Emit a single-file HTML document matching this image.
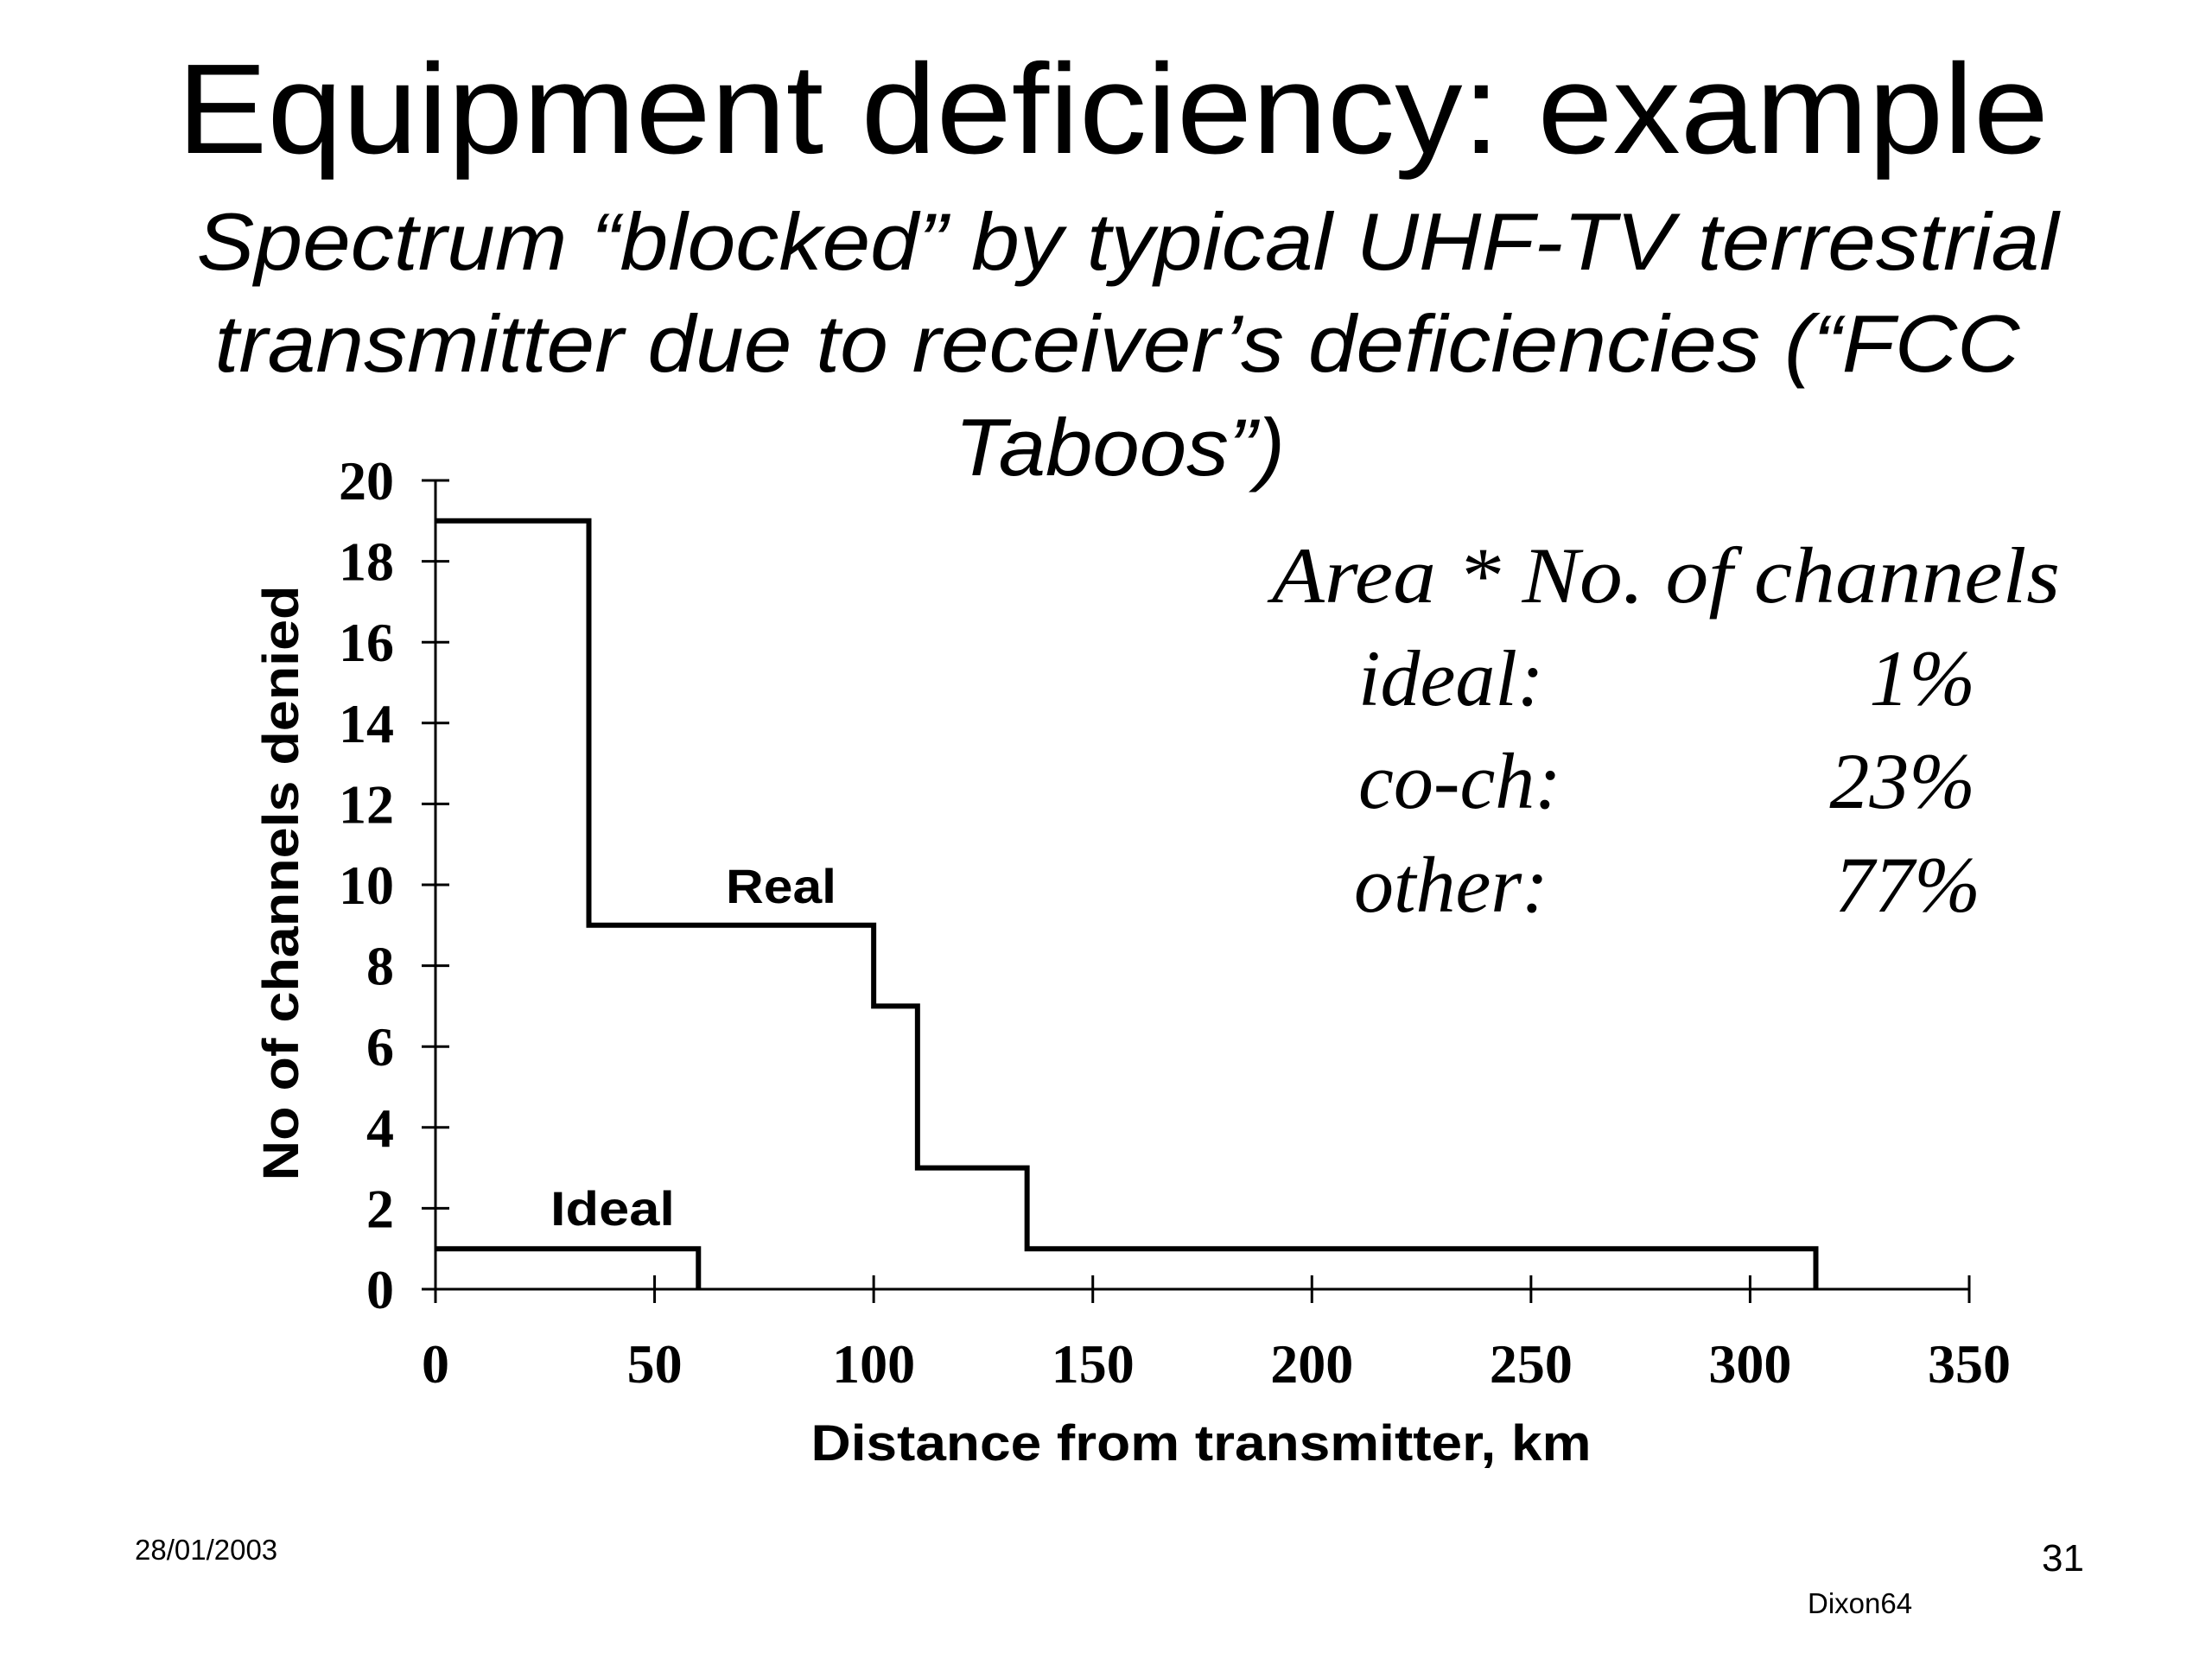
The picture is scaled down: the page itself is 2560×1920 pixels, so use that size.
<!DOCTYPE html>
<html><head><meta charset="utf-8"><style>
html,body{margin:0;padding:0;background:#fff;}
svg{display:block;}
</style></head><body>
<svg id="chart" width="2560" height="1920" viewBox="0 0 2560 1920" xmlns="http://www.w3.org/2000/svg">
<rect width="2560" height="1920" fill="#fff"/>
<text x="1288" y="177" text-anchor="middle" font-family="Liberation Sans, sans-serif" font-size="148" textLength="2166" lengthAdjust="spacingAndGlyphs">Equipment deficiency: example</text>
<g font-family="Liberation Sans, sans-serif" font-style="italic" font-size="94" text-anchor="middle">
<text x="1305" y="312" textLength="2155" lengthAdjust="spacingAndGlyphs">Spectrum “blocked” by typical UHF-TV terrestrial</text>
<text x="1293" y="430" textLength="2089" lengthAdjust="spacingAndGlyphs">transmitter due to receiver’s deficiencies (“FCC</text>
<text x="1296" y="550" textLength="382" lengthAdjust="spacingAndGlyphs">Taboos”)</text>
</g>
<g id="axes"></g>
<g id="series"></g>
<text transform="translate(345,1022) rotate(-90)" text-anchor="middle" font-family="Liberation Sans, sans-serif" font-weight="bold" font-size="58" textLength="689" lengthAdjust="spacingAndGlyphs">No of channels denied</text>
<text x="1390" y="1690" text-anchor="middle" font-family="Liberation Sans, sans-serif" font-weight="bold" font-size="58" textLength="903" lengthAdjust="spacingAndGlyphs">Distance from transmitter, km</text>
<text x="840" y="1045" font-family="Liberation Sans, sans-serif" font-weight="bold" font-size="56" textLength="128" lengthAdjust="spacingAndGlyphs">Real</text>
<text x="637" y="1418" font-family="Liberation Sans, sans-serif" font-weight="bold" font-size="56" textLength="144" lengthAdjust="spacingAndGlyphs">Ideal</text>
<g font-family="Liberation Serif, serif" font-style="italic" font-size="92">
<text x="1472" y="697" textLength="912" lengthAdjust="spacingAndGlyphs">Area * No. of channels</text>
<text x="1572" y="816">ideal:</text>
<text x="1572" y="935">co-ch:</text>
<text x="1567" y="1055">other:</text>
<text x="2286" y="816" text-anchor="end">1%</text>
<text x="2286" y="935" text-anchor="end">23%</text>
<text x="2292" y="1055" text-anchor="end">77%</text>
</g>
<text x="156" y="1805" font-family="Liberation Sans, sans-serif" font-size="33">28/01/2003</text>
<text x="2412" y="1818" text-anchor="end" font-family="Liberation Sans, sans-serif" font-size="44">31</text>
<text x="2092" y="1867" font-family="Liberation Sans, sans-serif" font-size="33">Dixon64</text>
</svg>
<script>
const xTicks = [0, 50, 100, 150, 200, 250, 300, 350];
const yTicks = [0, 2, 4, 6, 8, 10, 12, 14, 16, 18, 20];
const realX = [0, 35, 35, 100, 100, 110, 110, 135, 135, 315, 315];
const realY = [19, 19, 9, 9, 7, 7, 3, 3, 1, 1, 0];
const idealX = [0, 60, 60];
const idealY = [1, 1, 0];

const X0 = 504, X1 = 2279, Y0 = 1492, Y1 = 556;
const xMax = 350, yMax = 20;
function sx(v){ return X0 + (X1 - X0) * v / xMax; }
function sy(v){ return Y0 - (Y0 - Y1) * v / yMax; }
const NS = 'http://www.w3.org/2000/svg';
function mk(tag, attrs, parent){
  const e = document.createElementNS(NS, tag);
  for (const k in attrs) e.setAttribute(k, attrs[k]);
  parent.appendChild(e);
  return e;
}
const axes = document.getElementById('axes');
const series = document.getElementById('series');

const xAxis = mk('line', {x1: sx(0), y1: sy(0), x2: sx(xMax), y2: sy(0), stroke: '#000', 'stroke-width': 3}, axes);


const yAxis = mk('line', {x1: sx(0), y1: sy(0), x2: sx(0), y2: sy(yMax), stroke: '#000', 'stroke-width': 3}, axes);



xTicks.forEach(v => {
  const t = mk('line', {x1: sx(v), y1: sy(0) - 16, x2: sx(v), y2: sy(0) + 16, stroke: '#000', 'stroke-width': 3}, axes);
  
  
  const l = mk('text', {x: sx(v), y: 1600, 'text-anchor': 'middle', 'font-family': 'Liberation Serif, serif', 'font-weight': 'bold', 'font-size': 64}, axes);
  l.textContent = v;
  
  
});
yTicks.forEach(v => {
  const t = mk('line', {x1: sx(0) - 16, y1: sy(v), x2: sx(0) + 16, y2: sy(v), stroke: '#000', 'stroke-width': 3}, axes);
  
  
  const l = mk('text', {x: 456, y: sy(v) + 22, 'text-anchor': 'end', 'font-family': 'Liberation Serif, serif', 'font-weight': 'bold', 'font-size': 64}, axes);
  l.textContent = v;
  
  
});

function pts(xs, ys){ return xs.map((x, i) => sx(x) + ',' + sy(ys[i])).join(' '); }
const real = mk('polyline', {points: pts(realX, realY), fill: 'none', stroke: '#000', 'stroke-width': 6, 'stroke-linejoin': 'miter'}, series);


const ideal = mk('polyline', {points: pts(idealX, idealY), fill: 'none', stroke: '#000', 'stroke-width': 6, 'stroke-linejoin': 'miter'}, series);


</script>
</body></html>
